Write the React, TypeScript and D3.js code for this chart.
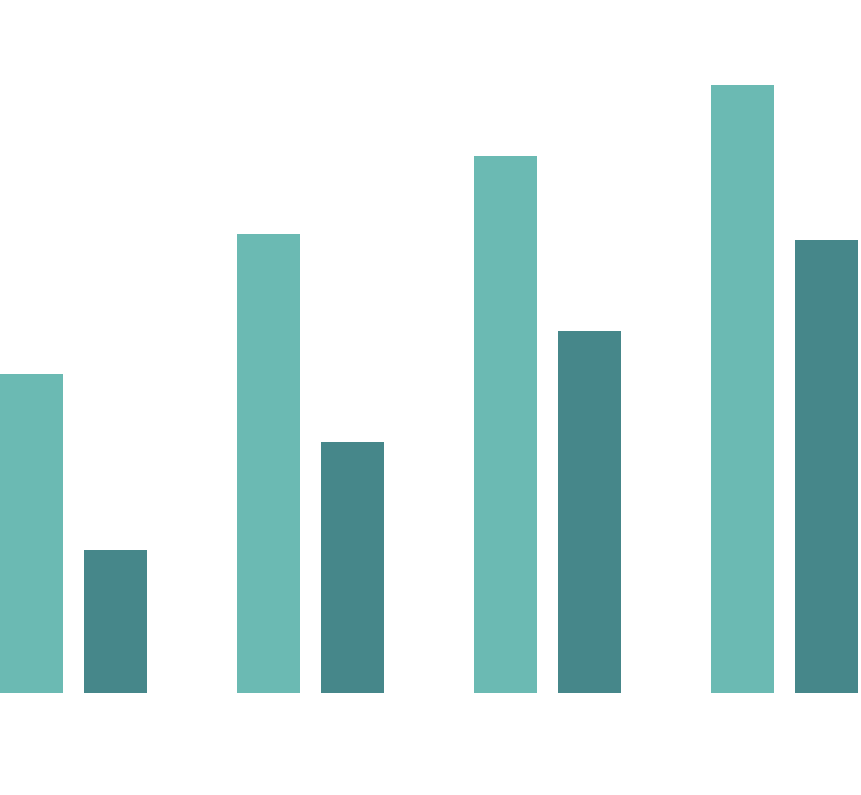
import React from "react";
import * as d3 from "d3";

const categories = ["Q1", "Q2", "Q3", "Q4"];
const seriesNames = ["Series A", "Series B"];
const seriesA = [319, 459, 537, 608];
const seriesB = [143, 251, 362, 453];
const colors = ["#6BBAB3", "#46878A"];

const W = 861;
const H = 795;
const baseline = 693;

export default function App() {
  const x0 = d3
    .scaleBand<string>()
    .domain(categories)
    .range([0, 858])
    .paddingInner(90 / 237)
    .paddingOuter(0);
  const x1 = d3
    .scaleBand<string>()
    .domain(seriesNames)
    .range([0, x0.bandwidth()])
    .paddingInner(0.25)
    .paddingOuter(0);
  const y = d3.scaleLinear().domain([0, 693]).range([baseline, 0]);
  const series = [seriesA, seriesB];

  return (
    <svg
      width={W}
      height={H}
      style={{ position: "absolute", left: 0, top: 0, background: "#fff" }}
    >
      {categories.map((c, i) => (
        <g key={c} transform={`translate(${x0(c)},0)`}>
          {seriesNames.map((s, j) => (
            <rect
              key={s}
              x={x1(s)}
              y={y(series[j][i])}
              width={x1.bandwidth()}
              height={baseline - y(series[j][i])}
              fill={colors[j]}
            />
          ))}
        </g>
      ))}
    </svg>
  );
}
